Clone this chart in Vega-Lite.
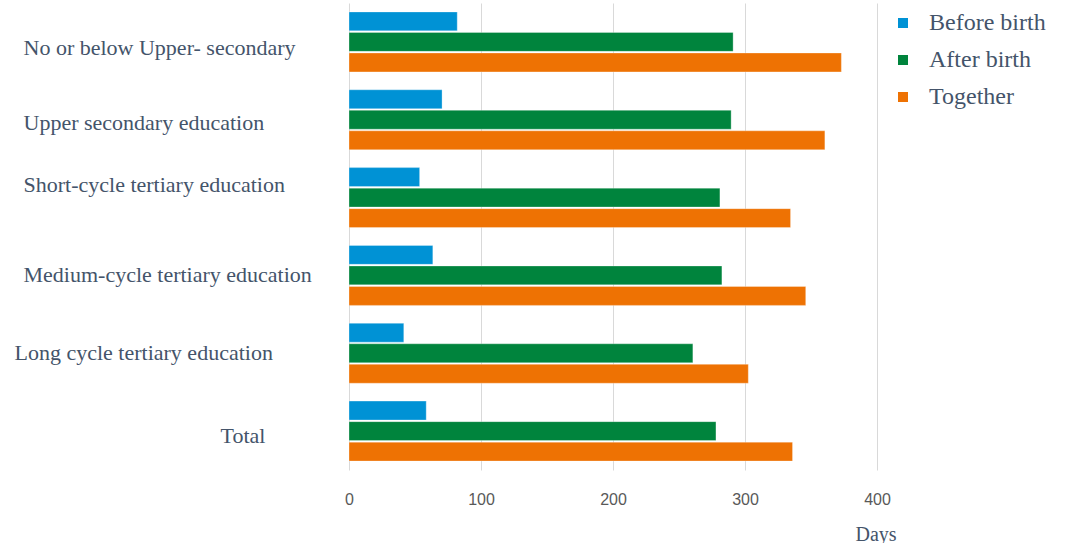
{
  "$schema": "https://vega.github.io/schema/vega-lite/v6.json",
  "width": 528,
  "height": 467,
  "autosize": "none",
  "padding": {"left": 349, "top": 3, "right": 191, "bottom": 73},
  "background": "white",
  "config": {"view": {"stroke": null}},
  "data": {
    "values": [
      {"level": "No or below Upper- secondary", "series": "Before birth", "days": 82},
      {"level": "No or below Upper- secondary", "series": "After birth", "days": 291},
      {"level": "No or below Upper- secondary", "series": "Together", "days": 373},
      {"level": "Upper secondary education", "series": "Before birth", "days": 70.5},
      {"level": "Upper secondary education", "series": "After birth", "days": 289.5},
      {"level": "Upper secondary education", "series": "Together", "days": 360.5},
      {"level": "Short-cycle tertiary education", "series": "Before birth", "days": 53.5},
      {"level": "Short-cycle tertiary education", "series": "After birth", "days": 281},
      {"level": "Short-cycle tertiary education", "series": "Together", "days": 334.5},
      {"level": "Medium-cycle tertiary education", "series": "Before birth", "days": 63.5},
      {"level": "Medium-cycle tertiary education", "series": "After birth", "days": 282.5},
      {"level": "Medium-cycle tertiary education", "series": "Together", "days": 346},
      {"level": "Long cycle tertiary education", "series": "Before birth", "days": 41.5},
      {"level": "Long cycle tertiary education", "series": "After birth", "days": 260.5},
      {"level": "Long cycle tertiary education", "series": "Together", "days": 302.5},
      {"level": "Total", "series": "Before birth", "days": 58.5},
      {"level": "Total", "series": "After birth", "days": 278},
      {"level": "Total", "series": "Together", "days": 336}
    ]
  },
  "mark": {"type": "bar", "stroke": "white", "strokeOpacity": 0.5, "strokeWidth": 0.6},
  "encoding": {
    "y": {
      "field": "level",
      "type": "nominal",
      "sort": ["No or below Upper- secondary", "Upper secondary education", "Short-cycle tertiary education", "Medium-cycle tertiary education", "Long cycle tertiary education", "Total"],
      "scale": {"paddingInner": 0.23, "paddingOuter": 0.115},
      "axis": {
        "title": null,
        "domain": false,
        "ticks": false,
        "tickSize": 0,
        "labelFont": "Liberation Serif",
        "labelFontSize": 22,
        "labelColor": "#44546A",
        "labelAlign": "left",
        "labelBaseline": "alphabetic",
        "labelLimit": 0,
        "labelOverlap": false,
        "labelPadding": {
          "condition": [
            {"test": "datum.value === 'Total'", "value": 129},
            {"test": "datum.value === 'Long cycle tertiary education'", "value": 335}
          ],
          "value": 326
        },
        "labelOffset": {
          "condition": [
            {"test": "datum.value === 'No or below Upper- secondary'", "value": 13},
            {"test": "datum.value === 'Upper secondary education'", "value": 10},
            {"test": "datum.value === 'Short-cycle tertiary education'", "value": -6},
            {"test": "datum.value === 'Total'", "value": 12}
          ],
          "value": 7
        }
      }
    },
    "yOffset": {
      "field": "series",
      "type": "nominal",
      "sort": ["Before birth", "After birth", "Together"],
      "scale": {"paddingInner": 0.08}
    },
    "x": {
      "field": "days",
      "type": "quantitative",
      "scale": {"domain": [0, 400]},
      "axis": {
        "values": [0, 100, 200, 300, 400],
        "grid": true,
        "gridColor": "#D9D9D9",
        "gridWidth": 1,
        "domain": false,
        "ticks": false,
        "tickSize": 0,
        "labelFlush": false,
        "labelFont": "Liberation Sans",
        "labelFontSize": 16,
        "labelColor": "#595959",
        "labelBaseline": "alphabetic",
        "labelPadding": 34,
        "title": "Days",
        "titleFont": "Liberation Serif",
        "titleFontSize": 20,
        "titleFontWeight": "normal",
        "titleColor": "#44546A",
        "titleAlign": "left",
        "titleBaseline": "alphabetic",
        "titleX": 506,
        "titleY": 70
      }
    },
    "color": {
      "field": "series",
      "type": "nominal",
      "sort": ["Before birth", "After birth", "Together"],
      "scale": {"domain": ["Before birth", "After birth", "Together"], "range": ["#0092D5", "#00843D", "#EE7203"]},
      "legend": {
        "title": null,
        "orient": "none",
        "legendX": 542,
        "legendY": 8,
        "padding": 0,
        "symbolType": "square",
        "symbolSize": 100,
        "symbolStrokeWidth": 0,
        "labelFont": "Liberation Serif",
        "labelFontSize": 24,
        "labelColor": "#44546A",
        "labelOffset": 14,
        "rowPadding": 13
      }
    }
  }
}
